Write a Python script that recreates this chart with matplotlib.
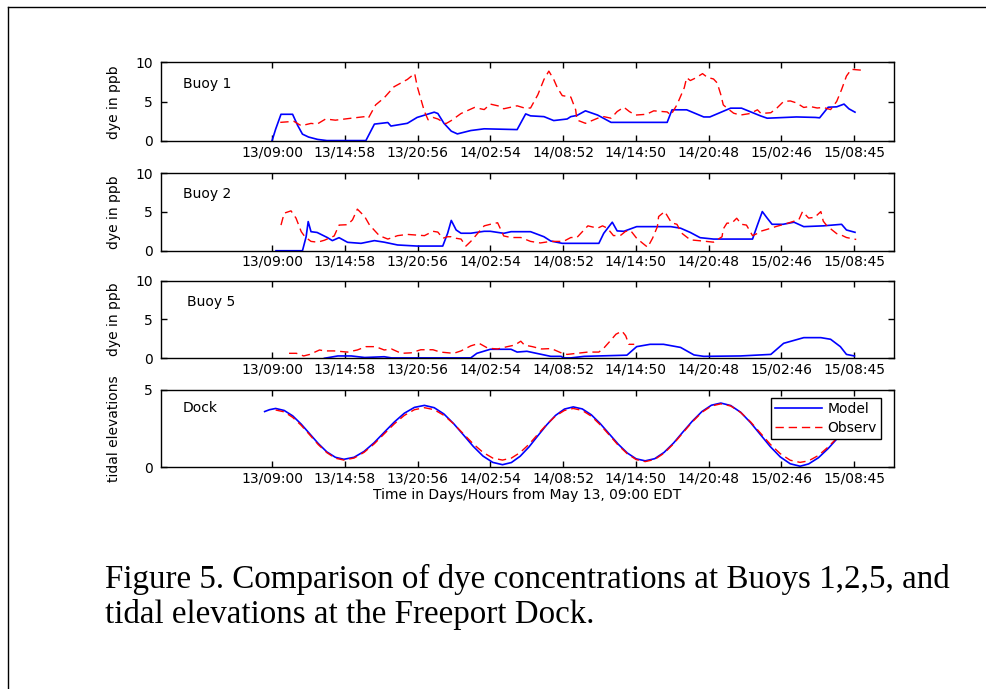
import re
import matplotlib
matplotlib.use("Agg")
import matplotlib.pyplot as plt
from matplotlib.lines import Line2D

# x axis: hours after May 13, 09:00 EDT
tick_labels = ["13/09:00", "13/14:58", "13/20:56", "14/02:54", "14/08:52",
               "14/14:50", "14/20:48", "15/02:46", "15/08:45"]

# Buoy 1
b1_model_t = [0.0, 0.3, 0.74, 1.69, 2.1, 2.5, 3.0, 3.74, 4.5, 7.7, 8.4, 9.5, 9.75, 11.1, 11.9,
              13.3, 13.6, 14.1, 14.7, 15.2, 16.3, 17.4, 20.1, 20.8, 21.2, 22.3, 23.1, 24.2, 24.5,
              25.0, 25.7, 26.7, 27.8, 32.4, 32.8, 34.0, 35.4, 35.9, 37.6, 38.5, 40.05, 40.6,
              43.0, 44.55, 44.9, 45.6, 46.3, 46.9, 47.3, 47.8]
b1_model_v = [0.0, 1.5, 3.4, 3.4, 2.0, 0.87, 0.5, 0.2, 0.05, 0.05, 2.15, 2.35, 1.9, 2.25, 3.0,
              3.67, 3.5, 2.25, 1.25, 0.9, 1.33, 1.55, 1.45, 3.45, 3.2, 3.1, 2.6, 2.8, 3.1,
              3.25, 3.84, 3.3, 2.37, 2.37, 3.97, 3.97, 3.06, 3.06, 4.18, 4.18, 3.2, 2.9,
              3.06, 3.0, 2.95, 4.3, 4.35, 4.7, 4.1, 3.67]
b1_obs_t = [0.68, 1.8, 2.4, 3.2, 3.7, 4.4, 5.2, 6.5, 7.6, 7.9, 8.5, 9.2, 10.0, 11.1, 11.7, 11.9,
            12.5, 12.8, 13.2, 13.6, 14.25, 14.7, 15.5, 16.6, 17.4, 17.9, 18.6, 19.0, 20.1, 20.7,
            21.2, 21.8, 22.3, 22.7, 23.1, 23.4, 23.8, 24.5, 24.9, 25.0, 25.7, 26.7, 27.2, 27.8,
            28.3, 28.85, 29.3, 29.8, 30.7, 31.3, 32.4, 32.7, 33.2, 33.8, 34.0, 34.3, 34.7, 35.3,
            35.7, 36.2, 36.5, 36.8, 37.0, 37.3, 37.85, 38.4, 39.2, 39.8, 40.1, 40.9, 41.4, 41.95,
            42.5, 43.0, 43.6, 44.1, 44.7, 45.2, 45.8, 46.3, 46.7, 47.1, 47.5, 48.5]
b1_obs_v = [2.37, 2.5, 1.94, 2.24, 2.15, 2.8, 2.65, 2.9, 3.1, 2.9, 4.6, 5.5, 6.9, 7.84, 8.6, 7.0,
            3.75, 2.7, 3.0, 2.8, 2.2, 2.6, 3.5, 4.27, 4.0, 4.7, 4.45, 4.1, 4.48, 4.2,
            4.2, 5.9, 7.84, 8.9, 7.84, 6.77, 5.78, 5.6, 3.97, 2.67, 2.25, 2.9, 3.1, 2.9,
            3.75, 4.3, 3.75, 3.3, 3.4, 3.84, 3.7, 3.3, 4.6, 6.77, 8.06, 7.7, 8.0, 8.58,
            8.1, 7.9, 7.4, 5.9, 4.6, 4.2, 3.54, 3.3, 3.5, 3.97, 3.5, 3.6, 4.2, 5.04,
            5.1, 4.85, 4.27, 4.4, 4.2, 4.27, 4.0, 5.04, 6.55, 8.27, 9.13, 9.0]

# Buoy 2
b2_model_t = [0.33, 2.5, 2.8, 2.97, 3.2, 3.7, 4.56, 4.95, 5.5, 6.2, 7.3, 8.4, 9.2, 10.3, 11.9,
              14.0, 14.4, 14.7, 15.1, 15.5, 16.3, 17.4, 17.9, 19.0, 19.6, 21.2, 22.3, 22.85,
              23.8, 26.8, 27.2, 27.9, 28.3, 28.85, 29.9, 32.7, 33.5, 34.3, 35.1, 36.2, 39.4,
              39.8, 40.2, 40.6, 41.0, 41.9, 42.8, 43.6, 45.2, 46.7, 47.1, 47.8]
b2_model_v = [0.0, 0.0, 1.8, 3.75, 2.45, 2.35, 1.68, 1.3, 1.68, 1.08, 0.95, 1.3, 1.1, 0.74, 0.6,
              0.6, 2.24, 3.9, 2.67, 2.25, 2.25, 2.5, 2.5, 2.24, 2.45, 2.45, 1.8, 1.25,
              0.95, 0.95, 2.24, 3.67, 2.55, 2.5, 3.1, 3.1, 2.9, 2.35, 1.68, 1.5, 1.5,
              3.3, 5.04, 4.2, 3.4, 3.4, 3.67, 3.1, 3.2, 3.4, 2.67, 2.37]
b2_obs_t = [0.74, 1.0, 1.56, 1.97, 2.4, 2.7, 3.2, 3.74, 4.3, 5.1, 5.5, 6.2, 6.6, 7.0, 7.6, 8.0,
            8.8, 9.5, 10.3, 11.1, 12.5, 13.2, 13.6, 14.0, 14.4, 14.7, 15.1, 15.5, 15.9, 16.3,
            16.9, 17.4, 17.9, 18.5, 19.0, 19.6, 20.4, 21.2, 22.0, 22.85, 23.9, 24.5, 25.0, 25.4,
            25.9, 26.7, 27.1, 27.5, 28.0, 28.6, 29.0, 29.4, 29.9, 30.4, 30.8, 31.2, 31.6, 31.7,
            32.2, 32.6, 32.75, 33.2, 33.6, 34.3, 35.3, 36.2, 36.9, 37.0, 37.3, 37.7, 38.1, 38.5,
            38.9, 39.4, 39.7, 40.05, 40.6, 41.3, 42.2, 43.2, 43.5, 44.0, 44.5, 45.0, 45.2, 45.5,
            46.3, 46.7, 47.1, 47.9]
b2_obs_v = [3.3, 4.83, 5.13, 4.2, 2.45, 1.8, 1.2, 1.1, 1.35, 1.9, 3.3, 3.35, 3.97, 5.35, 4.4, 3.3,
            1.94, 1.5, 1.94, 2.1, 1.94, 2.5, 2.4, 1.6, 1.8, 1.8, 1.6, 1.5, 0.6, 1.2,
            2.3, 3.2, 3.4, 3.6, 1.9, 1.7, 1.7, 1.2, 1.0, 1.2, 1.2, 1.7, 1.7, 2.37,
            3.2, 2.9, 3.2, 2.9, 1.94, 2.0, 2.5, 2.6, 1.6, 0.95, 0.45, 1.6, 3.1, 4.4,
            5.04, 4.0, 3.6, 3.4, 2.25, 1.4, 1.25, 1.1, 1.8, 2.8, 3.55, 3.55, 4.18, 3.4,
            3.3, 1.94, 2.15, 2.5, 2.75, 3.1, 3.5, 4.0, 5.04, 4.2, 4.3, 5.04, 3.8, 3.2,
            2.2, 2.0, 1.7, 1.45]

# Buoy 5
b5_model_t = [4.3, 5.4, 6.5, 7.6, 9.2, 9.8, 16.3, 16.8, 17.9, 19.6, 20.1, 20.9, 21.8, 22.85,
              23.7, 23.9, 24.5, 25.6, 29.1, 29.9, 31.0, 32.1, 33.5, 34.6, 35.4, 38.4, 40.9,
              41.95, 43.6, 45.0, 45.8, 46.6, 47.1, 47.75]
b5_model_v = [0.0, 0.3, 0.3, 0.1, 0.2, 0.05, 0.05, 0.64, 1.16, 1.16, 0.8, 0.9, 0.6, 0.25,
              0.25, 0.05, 0.05, 0.25, 0.4, 1.5, 1.8, 1.8, 1.4, 0.43, 0.25, 0.3, 0.5,
              1.93, 2.66, 2.66, 2.45, 1.5, 0.5, 0.3]
b5_obs_t = [1.4, 2.0, 2.6, 3.1, 3.9, 4.3, 5.1, 6.2, 7.0, 7.7, 8.5, 9.2, 9.8, 10.6, 11.4, 12.2,
            13.2, 13.8, 14.9, 15.5, 16.3, 16.98, 17.7, 18.5, 19.3, 19.9, 20.4, 20.7, 21.35,
            22.1, 22.9, 23.8, 24.2, 24.5, 25.0, 25.9, 26.8, 27.2, 27.8, 28.2, 28.7, 29.0,
            29.26, 29.7]
b5_obs_v = [0.64, 0.64, 0.3, 0.5, 1.07, 0.95, 0.95, 0.8, 1.07, 1.5, 1.5, 1.07, 1.2, 0.64, 0.7, 1.1,
            1.1, 0.8, 0.64, 0.95, 1.6, 1.93, 1.3, 1.2, 1.5, 1.7, 2.2, 1.7, 1.5,
            1.2, 1.25, 0.64, 0.5, 0.55, 0.64, 0.8, 0.8, 1.3, 2.36, 3.1, 3.5, 2.9,
            1.8, 1.8]

# Dock tidal elevations
tide_t = [-0.6, -0.2, 0.3, 1.0, 1.7, 2.4, 3.1, 3.8, 4.5, 5.2, 5.9, 6.73, 7.55, 8.38, 9.2, 10.03,
          10.85, 11.68, 12.5, 13.3, 14.1, 14.9, 15.7, 16.5, 17.3, 18.1, 18.9, 19.63, 20.35,
          21.08, 21.8, 22.53, 23.25, 23.98, 24.7, 25.44, 26.18, 26.91, 27.65, 28.39, 29.13,
          29.86, 30.6, 31.38, 32.15, 32.93, 33.7, 34.48, 35.25, 36.03, 36.8, 37.61, 38.43,
          39.24, 40.05, 40.86, 41.68, 42.49, 43.3, 44.0, 44.8, 45.6, 46.4, 47.1, 47.75]
tide_model = [3.6, 3.72, 3.8, 3.67, 3.32, 2.78, 2.15, 1.52, 0.98, 0.63, 0.5, 0.63, 1.01, 1.58, 2.25,
              2.92, 3.49, 3.87, 4.0, 3.85, 3.44, 2.81, 2.08, 1.34, 0.71, 0.3, 0.15, 0.29, 0.7,
              1.31, 2.03, 2.74, 3.35, 3.76, 3.9, 3.77, 3.39, 2.82, 2.15, 1.48, 0.91,
              0.53, 0.4, 0.54, 0.95, 1.56, 2.28, 2.99, 3.6, 4.01, 4.15, 3.99, 3.55,
              2.88, 2.1, 1.32, 0.65, 0.21, 0.05, 0.2, 0.6, 1.2, 1.9, 2.6, 3.1]
tide_obs_t = tide_t[2:]
tide_obs = [3.7, 3.58, 3.22, 2.7, 2.08, 1.45, 0.93, 0.57, 0.45, 0.58, 0.95, 1.5, 2.15,
            2.8, 3.35, 3.72, 3.85, 3.72, 3.35, 2.8, 2.15, 1.5, 0.95, 0.58, 0.45, 0.58, 0.94,
            1.48, 2.13, 2.77, 3.31, 3.67, 3.8, 3.67, 3.3, 2.74, 2.08, 1.41, 0.86,
            0.48, 0.35, 0.49, 0.9, 1.51, 2.23, 2.94, 3.55, 3.96, 4.1, 3.96, 3.54,
            2.93, 2.2, 1.47, 0.86, 0.44, 0.3, 0.4, 0.75, 1.3, 1.95, 2.6, 3.05]


def label_to_hours(s):
    d, h, m = map(int, re.split('[/:]', s))
    return (d - 13) * 24 + h - 9 + m / 60.0


tick_pos = [label_to_hours(s) for s in tick_labels]

blue = '#0000ff'
red = '#ff0000'
dash = (0, (6, 3.5))

fig = plt.figure(figsize=(9.87, 6.89), dpi=100)

panels = [
    ('Buoy 1', b1_model_t, b1_model_v, b1_obs_t, b1_obs_v, 'dye in ppb', [0, 5, 10], [0.1631, 0.7954, 0.7427, 0.1139]),
    ('Buoy 2', b2_model_t, b2_model_v, b2_obs_t, b2_obs_v, 'dye in ppb', [0, 5, 10], [0.1631, 0.6361, 0.7427, 0.1128]),
    ('Buoy 5', b5_model_t, b5_model_v, b5_obs_t, b5_obs_v, 'dye in ppb', [0, 5, 10], [0.1631, 0.4800, 0.7427, 0.1126]),
    ('Dock', tide_t, tide_model, tide_obs_t, tide_obs, 'tidal elevations', [0, 5], [0.1631, 0.3222, 0.7427, 0.1118]),
]

for name, mt, mv, ot, ov, ylab, yticks, pos in panels:
    ax = fig.add_axes(pos)
    ax.plot(mt, mv, color=blue, lw=1.2, label='Model')
    ax.plot(ot, ov, color=red, lw=1.0, linestyle=dash, label='Observ')
    ax.set_xlim(-9.1, 51.0)
    ax.set_ylim(0, yticks[-1])
    ax.set_yticks(yticks)
    ax.set_yticklabels([str(v) for v in yticks])
    ax.set_xticks(tick_pos)
    ax.set_xticklabels(tick_labels)
    ax.tick_params(direction='in', length=4, width=1, top=True, right=True,
                   labelsize=10, colors='black')
    ax.tick_params(axis='y', pad=6)
    ax.tick_params(axis='x', pad=3)
    for sp in ax.spines.values():
        sp.set_linewidth(1)
    ax.set_ylabel(ylab, fontsize=10)
    ax.yaxis.set_label_coords(-0.054, 0.5)
    ypos = 0.77 if name == 'Dock' else 0.73
    ax.text(0.03 if name != 'Buoy 5' else 0.036, ypos, name, transform=ax.transAxes,
            fontsize=10, va='center', ha='left')

ax.set_xlabel('Time in Days/Hours from May 13, 09:00 EDT', fontsize=10, labelpad=2)
leg = ax.legend(loc='upper right', bbox_to_anchor=(0.982, 0.896), borderaxespad=0,
                fontsize=10, fancybox=False, framealpha=1, edgecolor='black',
                handlelength=3.4, handletextpad=0.35, labelspacing=0.35, borderpad=0.3)
leg.get_frame().set_linewidth(1)

# caption under the plots
cap_font = ['Liberation Serif', 'DejaVu Serif']
fig.text(105 / 987, 1 - 588 / 689, 'Figure 5. Comparison of dye concentrations at Buoys 1,2,5, and',
         fontsize=23.8, family=cap_font, va='baseline', ha='left')
fig.text(105 / 987, 1 - 623 / 689, 'tidal elevations at the Freeport Dock.',
         fontsize=23.8, family=cap_font, va='baseline', ha='left')

# page border (top and left edge)
fig.add_artist(Line2D([8.3 / 987, 1], [1 - 7.3 / 689, 1 - 7.3 / 689], color='black', lw=1,
                      transform=fig.transFigure))
fig.add_artist(Line2D([8.3 / 987, 8.3 / 987], [0, 1 - 7.3 / 689], color='black', lw=1,
                      transform=fig.transFigure))

fig.savefig('out.png', dpi=100)
